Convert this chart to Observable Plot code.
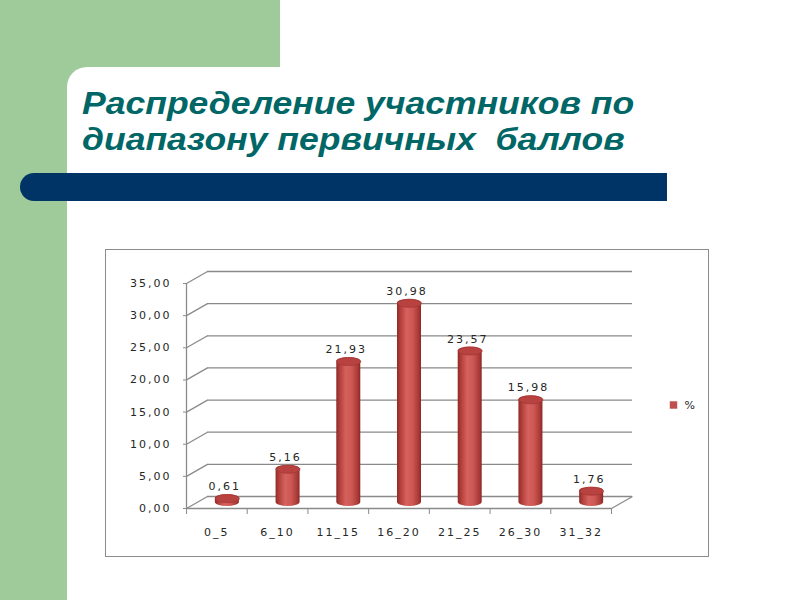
<!DOCTYPE html>
<html><head><meta charset="utf-8">
<script src="https://cdn.jsdelivr.net/npm/d3@7"></script>
<script src="https://cdn.jsdelivr.net/npm/@observablehq/plot@0.6"></script>
<style>
html,body{margin:0;padding:0;width:800px;height:600px;overflow:hidden;background:#fff;}
#green{position:absolute;left:0;top:0;width:280px;height:600px;background:#9ECB99;}
#white{position:absolute;left:67px;top:67px;width:733px;height:533px;background:#fff;border-top-left-radius:20px;}
#title{position:absolute;left:82px;top:85px;font:italic bold 32px "Liberation Sans",Arial,sans-serif;line-height:36px;color:#006666;transform:scaleX(1.11);transform-origin:0 0;white-space:nowrap;}
#navy{position:absolute;left:20px;top:173px;width:647px;height:28px;background:#003366;border-radius:14px 0 0 14px;}
#box{position:absolute;left:105px;top:249px;width:604px;height:308px;box-sizing:border-box;border:1.5px solid #8c8c8c;background:#fff;}
#chart{position:absolute;left:105px;top:249px;width:604px;height:308px;}
#chart svg{background:transparent;}
#chart svg text{letter-spacing:2px;}
</style></head>
<body>
<div id="green"></div>
<div id="white"></div>
<div id="title">Распределение участников по<br>диапазону первичных&nbsp; баллов</div>
<div id="navy"></div>
<div id="box"></div>
<div id="chart"></div>
<script>
const categories = ["0_5", "6_10", "11_15", "16_20", "21_25", "26_30", "31_32"];
const percents = [0.61, 5.16, 21.93, 30.98, 23.57, 15.98, 1.76];
const yTicks = [0, 5, 10, 15, 20, 25, 30, 35];
const seriesName = "%";

const data = categories.map((c, i) => ({cat: c, i, v: percents[i]}));
const fmt = d => d.toFixed(2).replace(".", ",");

const W = 604, H = 308, mL = 81, mR = 98, mT = 34, mB = 49;
const depthPx = 21, depthPy = 12;
const xUnit = (W - mL - mR) / categories.length;
const yUnit = (H - mT - mB) / 35;
const dX = depthPx / xUnit, dY = depthPy / yUnit;

const grid = "#8a8a8a";
const ellipse = {
  draw(ctx) {
    const a = 12, b = 4, k = 0.5523;
    ctx.moveTo(a, 0);
    ctx.bezierCurveTo(a, b * k, a * k, b, 0, b);
    ctx.bezierCurveTo(-a * k, b, -a, b * k, -a, 0);
    ctx.bezierCurveTo(-a, -b * k, -a * k, -b, 0, -b);
    ctx.bezierCurveTo(a * k, -b, a, -b * k, a, 0);
    ctx.closePath();
  }
};

const svg = Plot.plot({
  width: W, height: H,
  marginLeft: mL, marginRight: mR, marginTop: mT, marginBottom: mB,
  style: {fontFamily: "'DejaVu Sans', sans-serif", fontSize: "11px", color: "#262626", background: "transparent"},
  x: {type: "linear", domain: [0, categories.length], axis: null},
  y: {domain: [0, 35], axis: null},
  marks: [
    // back wall gridlines
    Plot.ruleY(yTicks, {dx: depthPx, dy: -depthPy, stroke: grid, strokeWidth: 1.3}),
    // side wall diagonals
    Plot.link(yTicks, {x1: 0, y1: d => d, x2: dX, y2: d => d + dY, stroke: grid, strokeWidth: 1.3}),
    Plot.link([0], {x1: categories.length, y1: 0, x2: categories.length + dX, y2: dY, stroke: grid, strokeWidth: 1.3}),
    // front floor edge and axis line
    Plot.ruleY([0], {stroke: grid, strokeWidth: 1.3}),
    Plot.ruleX([0], {y1: 0, y2: 35, stroke: grid, strokeWidth: 1.3}),
    Plot.axisY({ticks: yTicks, tickSize: 3, tickPadding: 12, tickFormat: fmt, stroke: grid, label: null}),
    Plot.axisX({ticks: d3.range(categories.length + 1), tickSize: 6, tickFormat: () => "", stroke: grid, label: null}),
    Plot.axisX({ticks: categories.map((c, i) => i + 0.5), tickSize: 0, tickPadding: 20, tickFormat: x => categories[Math.floor(x)], label: null}),
    // cylinders
    Plot.rectY(data, {x1: "i", x2: d => d.i + 1, y: "v", insetLeft: (xUnit - 24) / 2, insetRight: (xUnit - 24) / 2,
      insetTop: -4, insetBottom: -4, rx: 12, ry: 4, dx: depthPx / 2, dy: -depthPy / 2, fill: "url(#cyl)"}),
    Plot.dot(data, {x: d => d.i + 0.5, y: "v", symbol: ellipse, dx: depthPx / 2, dy: -depthPy / 2, fill: "#B8423F", stroke: "#9C3330", strokeWidth: 0.6}),
    Plot.text(data, {x: d => d.i + 0.5, y: "v", text: d => fmt(d.v), dx: 8, dy: -depthPy / 2 - 12, fill: "#262626"}),
    // legend
    Plot.dot([seriesName], {frameAnchor: "right", symbol: "square", r: 4.2, dx: 62, dy: 9, fill: "#C0504D"}),
    Plot.text([seriesName], {frameAnchor: "right", text: d => d, textAnchor: "start", dx: 73, dy: 9, fill: "#262626"})
  ]
});
svg.insertAdjacentHTML("afterbegin",
  `<defs><linearGradient id="cyl" x1="0" y1="0" x2="1" y2="0">
    <stop offset="0" stop-color="#8E2A27"/>
    <stop offset="0.15" stop-color="#B4403C"/>
    <stop offset="0.4" stop-color="#D5625E"/>
    <stop offset="0.65" stop-color="#CC5753"/>
    <stop offset="0.9" stop-color="#A93936"/>
    <stop offset="1" stop-color="#8A2825"/>
  </linearGradient></defs>`);
document.getElementById("chart").appendChild(svg);
</script>
</body></html>
